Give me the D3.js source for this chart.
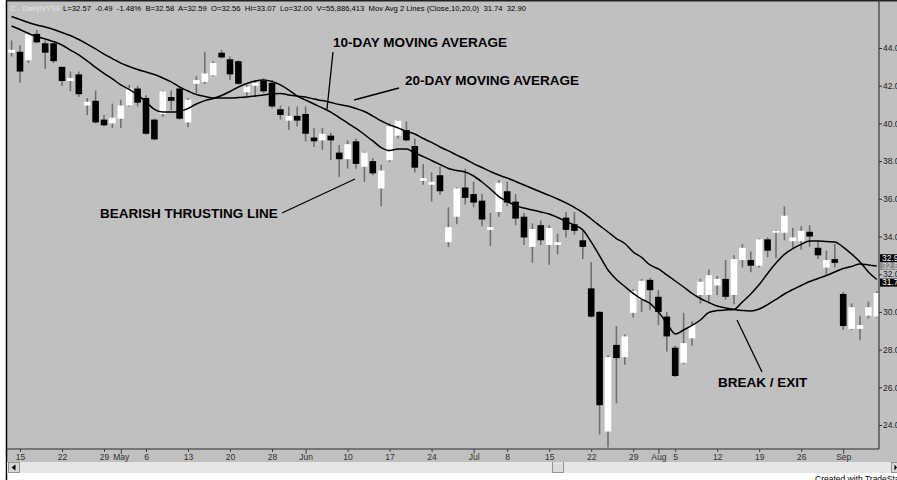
<!DOCTYPE html>
<html><head><meta charset="utf-8">
<script src="https://cdn.jsdelivr.net/npm/d3@7"></script>
<style>
body{margin:0;background:#fff;}
svg{display:block;font-family:"Liberation Sans",Arial,sans-serif;}
</style>
</head><body>
<svg id="chart" width="897" height="480"></svg>
<script>
// ---------- DATA ----------
const dates = [
"2002-04-12","2002-04-15","2002-04-16","2002-04-17","2002-04-18","2002-04-19","2002-04-22","2002-04-23","2002-04-24","2002-04-25","2002-04-26","2002-04-29","2002-04-30",
"2002-05-01","2002-05-02","2002-05-03","2002-05-06","2002-05-07","2002-05-08","2002-05-09","2002-05-10","2002-05-13","2002-05-14","2002-05-15","2002-05-16","2002-05-17","2002-05-20","2002-05-21","2002-05-22","2002-05-23","2002-05-24","2002-05-28","2002-05-29","2002-05-30","2002-05-31",
"2002-06-03","2002-06-04","2002-06-05","2002-06-06","2002-06-07","2002-06-10","2002-06-11","2002-06-12","2002-06-13","2002-06-14","2002-06-17","2002-06-18","2002-06-19","2002-06-20","2002-06-21","2002-06-24","2002-06-25","2002-06-26","2002-06-27","2002-06-28",
"2002-07-01","2002-07-02","2002-07-03","2002-07-05","2002-07-08","2002-07-09","2002-07-10","2002-07-11","2002-07-12","2002-07-15","2002-07-16","2002-07-17","2002-07-18","2002-07-19","2002-07-22","2002-07-23","2002-07-24","2002-07-25","2002-07-26","2002-07-29","2002-07-30","2002-07-31",
"2002-08-01","2002-08-02","2002-08-05","2002-08-06","2002-08-07","2002-08-08","2002-08-09","2002-08-12","2002-08-13","2002-08-14","2002-08-15","2002-08-16","2002-08-19","2002-08-20","2002-08-21","2002-08-22","2002-08-23","2002-08-26","2002-08-27","2002-08-28","2002-08-29","2002-08-30",
"2002-09-03","2002-09-04","2002-09-05","2002-09-06","2002-09-09"];

const opens = [43.75,43.8,43.35,44.75,44.25,44.25,43.0,42.25,42.6,40.95,
41.2,40.2,40.0,40.25,40.95,41.85,41.35,40.2,40.5,41.4,
41.85,40.05,42.1,42.2,42.55,43.75,43.4,43.3,41.65,42.0,
42.25,42.15,40.75,40.15,40.4,40.5,39.25,39.1,39.35,38.45,
38.1,39.05,37.7,38.0,36.55,38.05,39.35,39.65,38.8,36.95,
36.75,37.25,33.7,35.05,36.6,36.25,35.9,34.35,35.3,36.4,
35.85,35.05,33.45,34.6,33.55,33.55,35.0,34.65,33.8,
31.25,30.0,23.65,28.25,27.6,29.95,30.65,31.7,30.8,29.75,
28.1,27.3,28.6,30.9,30.9,31.4,31.75,30.9,32.75,32.75,
32.45,33.85,34.2,34.2,33.75,33.75,34.25,33.4,32.35,32.8,
30.95,29.1,29.1,29.8,29.75];

const highs = [44.4,44.15,44.85,44.95,44.4,44.3,43.0,42.75,42.75,41.35,
41.75,40.45,41.05,41.25,42.05,42.0,41.5,40.25,41.75,41.75,
41.9,41.35,42.5,43.8,43.3,43.9,43.55,43.35,42.05,42.3,
42.4,42.3,40.95,40.9,40.9,40.9,39.75,39.75,39.5,38.85,
39.1,39.2,38.5,38.15,37.8,40.0,40.2,40.1,39.2,37.85,
37.4,37.7,35.55,36.6,37.6,36.9,36.25,35.25,37.0,36.9,
36.25,35.25,34.7,34.85,34.6,34.15,35.3,35.3,34.3,
32.65,30.05,27.7,29.25,28.8,31.2,31.75,31.8,31.15,30.0,
28.2,29.95,29.5,31.75,32.25,31.9,32.75,33.0,33.6,33.2,
33.9,33.95,34.35,35.6,34.45,34.55,34.6,33.8,33.25,33.6,
31.05,30.45,29.8,30.55,31.1];

const lows = [43.55,42.15,43.2,44.25,42.9,43.2,42.0,41.7,41.4,40.45,
40.0,39.85,39.75,39.75,40.9,40.9,39.4,39.1,40.35,40.7,
40.2,39.8,41.6,42.1,42.5,43.45,42.3,42.05,41.4,41.4,
41.6,40.8,40.2,39.65,39.85,39.05,38.75,38.6,38.05,37.15,
37.6,37.6,36.9,37.25,35.6,37.95,39.2,39.05,37.4,36.75,
35.85,36.2,33.45,34.65,35.7,35.55,34.55,33.5,35.05,35.6,
34.6,33.55,32.6,33.55,32.5,33.05,33.95,34.1,32.8,
29.7,23.5,22.8,25.15,27.2,29.7,30.0,30.1,29.3,27.9,
26.55,27.25,28.2,30.45,30.55,30.9,30.65,30.4,32.35,32.1,
32.35,32.9,32.85,33.8,33.4,33.3,33.45,32.8,31.95,32.35,
29.05,29.05,28.5,29.65,29.7];

const closes = [43.9,42.75,44.75,44.3,43.75,43.3,42.25,42.4,41.55,41.15,
40.05,39.9,40.3,40.95,41.85,41.1,39.45,39.15,41.7,41.2,
40.25,41.25,42.3,42.65,43.2,43.5,42.6,42.1,41.95,42.15,
41.7,40.9,40.45,40.4,40.15,39.45,39.05,39.45,39.1,38.1,
38.9,37.85,38.45,37.35,37.5,39.85,40.15,39.1,37.65,37.1,
36.9,36.4,34.5,36.55,36.05,35.8,34.9,34.5,36.85,35.8,
34.95,33.95,34.4,33.8,34.45,33.7,34.35,34.3,33.45,
29.75,25.05,27.6,27.55,28.7,31.1,31.65,31.15,30.0,28.7,
26.6,28.35,29.3,31.6,31.95,31.75,30.8,32.8,33.4,32.45,
33.85,33.25,34.3,35.1,33.95,34.3,34.0,33.0,32.75,32.6,
29.25,30.25,29.3,30.25,31.0];

const ma10 = [45.17,44.98,44.77,44.61,44.48,44.34,44.16,43.89,43.63,43.31,
42.97,42.65,42.36,42.04,41.80,41.51,41.14,40.74,40.60,40.60,
40.63,40.79,41.03,41.21,41.32,41.48,41.69,41.93,42.12,42.25,
42.30,42.22,42.04,41.77,41.45,41.24,41.03,40.82,40.60,40.31,
40.02,39.73,39.41,39.07,38.72,38.56,38.64,38.64,38.43,38.24,
38.03,37.82,37.61,37.50,37.42,37.21,36.89,36.52,36.12,35.86,
35.64,35.51,35.41,35.30,35.19,35.01,34.80,34.61,34.35,33.71,
32.97,32.22,31.72,31.35,30.98,30.68,30.45,29.99,29.41,28.83,
29.04,29.28,29.57,29.97,30.07,30.10,30.13,30.53,30.95,31.45,
32.04,32.59,33.05,33.36,33.58,33.76,33.76,33.73,33.71,33.44,
33.07,32.65,32.12,31.72];

const ma20 = [45.67,45.51,45.35,45.22,45.11,44.98,44.82,44.66,44.45,44.21,
43.95,43.68,43.44,43.20,43.02,42.86,42.73,42.59,42.41,42.20,
41.93,41.72,41.53,41.43,41.35,41.35,41.35,41.37,41.40,41.45,
41.51,41.56,41.59,41.51,41.45,41.40,41.29,41.21,41.11,41.00,
40.92,40.79,40.63,40.39,40.13,39.92,39.76,39.57,39.44,39.20,
38.99,38.75,38.54,38.32,38.11,37.87,37.66,37.45,37.26,37.10,
36.92,36.73,36.55,36.36,36.18,35.99,35.78,35.54,35.27,34.93,
34.58,34.24,33.89,33.63,33.18,32.89,32.49,32.28,31.96,31.64,
31.32,30.98,30.71,30.50,30.31,30.21,30.13,30.07,30.05,30.15,
30.39,30.66,30.95,31.19,31.40,31.61,31.77,31.93,32.12,32.30,
32.41,32.54,32.49,32.43];

const xTickDates  = ["2002-04-15","2002-04-22","2002-04-29","2002-05-01","2002-05-06","2002-05-13","2002-05-20","2002-05-28","2002-06-03","2002-06-10","2002-06-17","2002-06-24","2002-07-01","2002-07-08","2002-07-15","2002-07-22","2002-07-29","2002-08-01","2002-08-05","2002-08-12","2002-08-19","2002-08-26","2002-09-03"];
const xTickLabels = ["15","22","29","May","6","13","20","28","Jun","10","17","24","Jul","8","15","22","29","Aug","5","12","19","26","Sep"];
const yTicks = [24,26,28,30,32,34,36,38,40,42,44];

const lastLabelValues = [32.90, 32.57, 31.74];
const lastLabelKinds  = ["ma20","last","ma10"];

const headerFields = "L=32.57  -0.49  -1.48%  B=32.58  A=32.59  O=32.56  Hi=33.07  Lo=32.00  V=55,886,413  Mov Avg 2 Lines (Close,10,20,0)  31.74  32.90";

const annotations = [
  {text:"10-DAY MOVING AVERAGE", tx:333, ty:47, line:[[333,52],[327,109]]},
  {text:"20-DAY MOVING AVERAGE", tx:405, ty:85, line:[[399,88],[354,100]]},
  {text:"BEARISH THRUSTING LINE", tx:100, ty:218, line:[[282,213],[355,179]]},
  {text:"BREAK / EXIT", tx:718, ty:387, line:[[737,320],[762,372]]}
];

// ---------- CHART ----------
const svg = d3.select("#chart");
const PL = 7, PR = 879, PT = 2, PB = 449;

const x = d3.scalePoint().domain(dates).range([11.6, 876.8]);
const y = d3.scaleLinear().domain([24,44]).range([425,48]);

svg.append("rect").attr("x",0).attr("y",0).attr("width",897).attr("height",480).attr("fill","#ffffff");
svg.append("rect").attr("x",6).attr("y",0).attr("width",891).attr("height",462).attr("fill","#c0c0c0");

svg.append("defs").append("clipPath").attr("id","plotclip")
  .append("rect").attr("x",PL).attr("y",PT).attr("width",PR-PL).attr("height",PB-PT);

const g = svg.append("g").attr("clip-path","url(#plotclip)");

const bars = dates.map((d,i)=>({d, o:opens[i], h:highs[i], l:lows[i], c:closes[i]}));

g.selectAll("line.wick").data(bars).enter().append("line")
  .attr("class","wick")
  .attr("x1",b=>x(b.d)).attr("x2",b=>x(b.d))
  .attr("y1",b=>y(b.h)).attr("y2",b=>y(b.l))
  .attr("stroke","#707070").attr("stroke-width",1.6);

const bw = 6.6;
g.selectAll("rect.body").data(bars).enter().append("rect")
  .attr("class","body")
  .attr("x",b=>x(b.d)-bw/2).attr("width",bw)
  .attr("y",b=>y(Math.max(b.o,b.c)))
  .attr("height",b=>Math.max(1.5, Math.abs(y(b.o)-y(b.c))))
  .attr("fill",b=>b.c<b.o?"#000000":"#ffffff");

const line = d3.line().x((v,i)=>x(dates[i])).y(v=>y(v)).curve(d3.curveMonotoneX);
[ma20, ma10].forEach(arr=>{
  g.append("path").attr("d",line(arr)).attr("fill","none")
    .attr("stroke","#000").attr("stroke-width",1.5);
});

svg.append("line").attr("x1",6.5).attr("x2",6.5).attr("y1",0).attr("y2",480).attr("stroke","#000").attr("stroke-width",1.5);
svg.append("line").attr("x1",6).attr("x2",897).attr("y1",0.8).attr("y2",0.8).attr("stroke","#202020").attr("stroke-width",1.5);
svg.append("line").attr("x1",PR).attr("x2",PR).attr("y1",0).attr("y2",PB).attr("stroke","#3a3a3a").attr("stroke-width",1.2);
svg.append("line").attr("x1",6).attr("x2",PR).attr("y1",PB).attr("y2",PB).attr("stroke","#2a2a2a").attr("stroke-width",1.2);

const yAxis = d3.axisRight(y).tickValues(yTicks).tickSize(3).tickPadding(1).tickFormat(d3.format(".2f"));
const ya = svg.append("g").attr("transform",`translate(${PR},0)`).call(yAxis);
ya.select(".domain").remove();
ya.selectAll("line").attr("stroke","#303030");
ya.selectAll("text").attr("font-size","8.5px").attr("fill","#202020").attr("font-family","Liberation Sans, Arial, sans-serif");

const lab = svg.append("g");
const boxH = 8;
const lblY = {ma20: y(lastLabelValues[0]) + 1, last: y(lastLabelValues[1]) + 2.5, ma10: y(lastLabelValues[2]) + 3.5};
lastLabelValues.forEach((v,i)=>{
  const kind = lastLabelKinds[i];
  const cy = lblY[kind];
  lab.append("rect").attr("x",PR+1).attr("y",cy-boxH/2).attr("width",897-PR).attr("height",boxH)
    .attr("fill", kind==="last" ? "#8c8c8c" : "#000");
  lab.append("text").attr("x",PR+3).attr("y",cy).attr("dy","0.33em")
    .attr("font-size","8.5px").attr("fill", kind==="last" ? "#d8d8d8" : "#ffffff")
    .text(d3.format(".2f")(v));
});

const tickMap = new Map(xTickDates.map((d,i)=>[d,xTickLabels[i]]));
const xAxis = d3.axisBottom(x).tickValues(xTickDates).tickSize(3).tickPadding(2).tickFormat(d=>tickMap.get(d));
const xa = svg.append("g").attr("transform",`translate(0,${PB})`).call(xAxis);
xa.select(".domain").remove();
xa.selectAll("line").attr("stroke","#404040")
  .attr("y2",d=>/^[A-Z]/.test(tickMap.get(d))?5:3);
xa.selectAll("text").attr("font-size","8.5px").attr("fill","#303030").attr("font-family","Liberation Sans, Arial, sans-serif");

svg.append("text").attr("x",10).attr("y",11).attr("font-size","7.8px").attr("fill","#e4e4e4").text("C - Daily");
svg.append("text").attr("x",40).attr("y",11).attr("font-size","7.8px").attr("fill","#e4e4e4").text("NYSE");
svg.append("text").attr("x",63).attr("y",11).attr("font-size","7.8px").attr("fill","#000")
  .attr("xml:space","preserve").style("white-space","pre")
  .attr("textLength",463).attr("lengthAdjust","spacingAndGlyphs").text(headerFields);

annotations.forEach(a=>{
  svg.append("line").attr("x1",a.line[0][0]).attr("y1",a.line[0][1]).attr("x2",a.line[1][0]).attr("y2",a.line[1][1])
    .attr("stroke","#000").attr("stroke-width",1.3);
  svg.append("text").attr("x",a.tx).attr("y",a.ty).attr("font-size","13.5px").attr("font-weight","bold")
    .attr("fill","#000").text(a.text);
});

svg.append("rect").attr("x",7).attr("y",462).attr("width",890).attr("height",11).attr("fill","#e6e6e6");
svg.append("rect").attr("x",8.5).attr("y",462.5).attr("width",11).attr("height",10).attr("fill","#d8d8d8").attr("stroke","#808080").attr("stroke-width",0.8);
svg.append("path").attr("d","M11.5,467.5 L15.5,464.5 L15.5,470.5 Z").attr("fill","#000");
svg.append("rect").attr("x",552.5).attr("y",462.5).attr("width",11).attr("height",10).attr("fill","#dcdcdc").attr("stroke","#808080").attr("stroke-width",0.8);
svg.append("line").attr("x1",553).attr("x2",563).attr("y1",462.8).attr("y2",462.8).attr("stroke","#ffffff").attr("stroke-width",1);
svg.append("rect").attr("x",891.5).attr("y",462.5).attr("width",8).attr("height",10).attr("fill","#d8d8d8").attr("stroke","#808080").attr("stroke-width",0.8);
svg.append("path").attr("d","M894.5,464.5 L897,467.5 L894.5,470.5 Z").attr("fill","#000");
svg.append("text").attr("x",815).attr("y",482).attr("font-size","8.5px").attr("fill","#000").text("Created with TradeStation");
</script>
</body></html>
